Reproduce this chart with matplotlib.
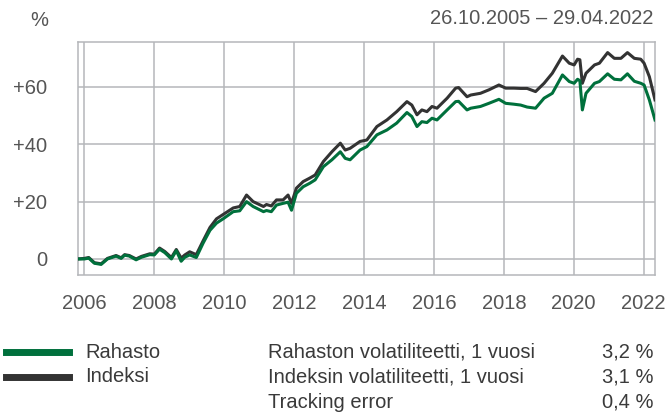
import matplotlib
matplotlib.use("Agg")
import matplotlib.pyplot as plt
import matplotlib.dates as mdates
import pandas as pd

plt.rcParams['font.family'] = ['Liberation Sans', 'DejaVu Sans']

# values (cumulative return, %)
dates = [
    "2005-10-26", "2006-01-01", "2006-02-15", "2006-04-15", "2006-06-25", "2006-08-30",
    "2006-11-28", "2007-01-20", "2007-02-25", "2007-04-15", "2007-06-25", "2007-08-20",
    "2007-11-15", "2008-01-01", "2008-02-25", "2008-04-20", "2008-06-28", "2008-08-18",
    "2008-10-08", "2008-11-15", "2009-01-05", "2009-03-15", "2009-05-25", "2009-08-05",
    "2009-10-12", "2009-12-20", "2010-04-05", "2010-06-12", "2010-08-22", "2010-10-30",
    "2011-02-15", "2011-03-18", "2011-05-08", "2011-07-01", "2011-09-08", "2011-10-30",
    "2011-12-05", "2012-01-25", "2012-04-05", "2012-06-12", "2012-08-08", "2012-11-02",
    "2013-01-30", "2013-04-28", "2013-06-18", "2013-08-08", "2013-11-20", "2014-01-30",
    "2014-05-15", "2014-08-28", "2014-12-08", "2015-03-25", "2015-05-15", "2015-07-08",
    "2015-08-28", "2015-10-20", "2015-12-12", "2016-02-02", "2016-05-18", "2016-08-15",
    "2016-09-15", "2016-12-12", "2017-01-20", "2017-05-01", "2017-07-28", "2017-11-10",
    "2018-01-20", "2018-04-15", "2018-06-25", "2018-09-01", "2018-11-28", "2019-02-25",
    "2019-05-22", "2019-09-05", "2019-11-15", "2020-01-05", "2020-02-10", "2020-03-05",
    "2020-03-31", "2020-05-08", "2020-08-05", "2020-09-25", "2020-12-20", "2021-02-28",
    "2021-05-08", "2021-07-15", "2021-09-25", "2021-12-01", "2022-01-05", "2022-03-01",
    "2022-04-29",
]
rahasto = [
    0, 0, 0.3, -1.5, -1.9, 0,
    1, 0.2, 1.3, 1, -0.3, 0.6,
    1.5, 1.4, 3.4, 2.2, 0, 2.9,
    -0.8, 0.6, 1.4, 0.5, 5.5, 10,
    12.5, 14, 16.5, 16.8, 20, 18.3,
    16.5, 16.9, 16.5, 18.8, 19.4, 19.8,
    17, 22.9, 25.2, 26.4, 27.6, 32.2,
    34.6, 37.4, 35.1, 34.6, 38, 39.2,
    43.3, 45, 47.4, 51.1, 49.7, 46.2,
    47.9, 47.6, 49.1, 48.5, 52, 54.9,
    55, 52, 52.6, 53.2, 54.3, 55.7,
    54.3, 54, 53.7, 53, 52.6, 56.1,
    57.8, 64.2, 61.9, 61.3, 62.7, 62.2,
    52, 57.8, 61.3, 61.9, 64.6, 62.7,
    62.5, 64.6, 62, 61.3, 60.7, 55.5,
    48.5,
]
indeksi = [
    0, 0.2, 0.5, -1.3, -1.7, 0.2,
    1.2, 0.4, 1.5, 1.2, 0, 0.9,
    1.8, 1.7, 3.8, 2.6, 0.5, 3.3,
    0.3, 1.4, 2.5, 1.5, 6.3, 11,
    14, 15.5, 17.8, 18.3, 22.3, 20,
    18.3, 19, 18.5, 20.6, 20.6, 22.3,
    19.4, 24.7, 27, 28.2, 29.3, 34,
    37.4, 40.4, 38, 38.6, 41, 41.5,
    46.2, 48.5, 51.4, 54.9, 53.7, 50.3,
    52, 51.4, 53.2, 52.6, 56.1, 59.6,
    59.8, 56.6, 57.2, 57.8, 59, 60.7,
    59.6, 59.6, 59.5, 59.5, 58.4, 61.3,
    64.8, 70.8, 68.3, 67.7, 69.7, 69.5,
    61.3, 64.8, 67.7, 68.3, 72, 70,
    70, 72, 70, 69.7, 68.3, 63.6,
    55.5,
]
y_ticks = [0, 20, 40, 60]
y_labels = ["0", "+20", "+40", "+60"]
period = "26.10.2005 – 29.04.2022"
series_names = ["Rahasto", "Indeksi"]
stat_names = ["Rahaston volatiliteetti, 1 vuosi", "Indeksin volatiliteetti, 1 vuosi", "Tracking error"]
stat_values = ["3,2 %", "3,1 %", "0,4 %"]

GREEN = "#00703c"
BLACK = "#333333"
GRID = "#b5b7ba"
TXT = "#555555"

W, H = 666, 415
fig = plt.figure(figsize=(W / 100, H / 100), dpi=100)
ax = fig.add_axes([78 / W, 1 - 275 / H, 577 / W, 233 / H])

x = pd.to_datetime(dates)
ax.plot(x, indeksi, color=BLACK, lw=2.2, solid_joinstyle='round', zorder=3)
ax.plot(x, rahasto, color=GREEN, lw=2.2, solid_joinstyle='round', zorder=4)

ax.set_xlim(pd.Timestamp("2005-10-26"), pd.Timestamp("2022-04-29"))
ax.set_ylim(-5.6, 75.7)
ax.xaxis.set_major_locator(mdates.YearLocator(2))
ax.xaxis.set_major_formatter(mdates.DateFormatter("%Y"))
ax.set_yticks(y_ticks)
ax.set_yticklabels(y_labels)
ax.grid(True, color=GRID, lw=1.1, zorder=1)
for s in ax.spines.values():
    s.set_color(GRID)
    s.set_linewidth(1.1)
ax.tick_params(axis='both', length=0, labelsize=14.5, colors=TXT)
ax.tick_params(axis='x', pad=14)
ax.tick_params(axis='y', pad=22)

def px(xp, yp):
    return xp / W, 1 - yp / H

fig.text(*px(39, 20), "%", fontsize=14.5, color=TXT, ha='center', va='center')
fig.text(*px(653, 18), period, fontsize=14.5, color=TXT, ha='right', va='center')

for name, col, yp in zip(series_names, [GREEN, BLACK], [352, 377]):
    fig.add_artist(plt.Line2D([6 / W, 69 / W], [1 - yp / H] * 2, color=col, lw=5))
    fig.text(*px(85, yp), name, fontsize=14.5, color="#3a3a3a", ha='left', va='center')

for name, val, yp in zip(stat_names, stat_values, [352, 377, 402]):
    fig.text(*px(268, yp), name, fontsize=14.5, color="#3a3a3a", ha='left', va='center')
    fig.text(*px(654, yp), val, fontsize=14.5, color="#3a3a3a", ha='right', va='center')

fig.savefig("out.png", dpi=100)
